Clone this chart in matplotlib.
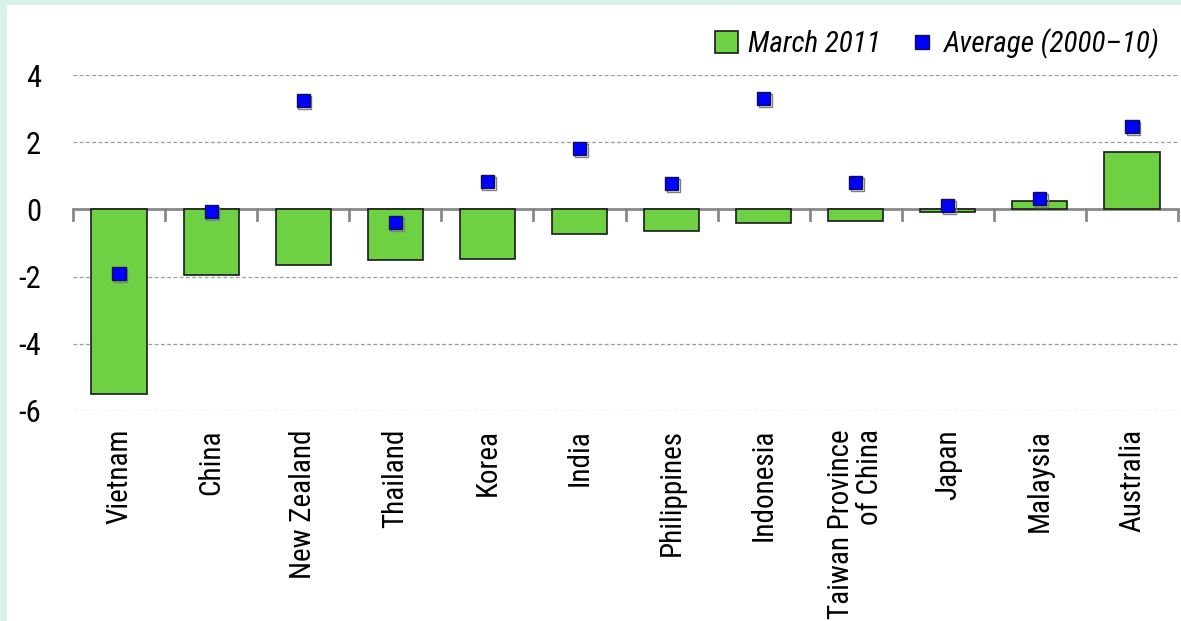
import matplotlib.pyplot as plt
import matplotlib.patheffects as pe
from matplotlib import font_manager
from matplotlib.patches import Patch
from matplotlib.lines import Line2D
import numpy as np

# Data
countries = ["Vietnam", "China", "New Zealand", "Thailand", "Korea", "India",
             "Philippines", "Indonesia", "Taiwan Province\nof China", "Japan",
             "Malaysia", "Australia"]
march_2011 = [-5.48, -1.96, -1.64, -1.52, -1.49, -0.74, -0.65, -0.39, -0.36, -0.09, 0.24, 1.70]
average_2000_10 = [-1.90, -0.06, 3.24, -0.39, 0.83, 1.81, 0.77, 3.30, 0.80, 0.12, 0.33, 2.47]

# use a narrow font if one is installed
installed = {f.name for f in font_manager.fontManager.ttflist}
narrow = [n for n in ['Roboto Condensed', 'Liberation Sans Narrow', 'DejaVu Sans Condensed']
          if n in installed]
plt.rcParams['font.family'] = narrow + ['DejaVu Sans']
scale = 1.0 if narrow else 0.82

fig = plt.figure(figsize=(11.81, 6.21), dpi=100, facecolor='#d9f1e9')
# white panel inside the mint frame
bg = fig.add_axes([7/1181, 0, 1 - 7/1181, 1 - 5/621], zorder=0)
bg.set_axis_off()
bg.add_patch(plt.Rectangle((0, 0), 1, 1, transform=bg.transAxes, color='white'))

ax = fig.add_axes([73/1181, 1 - 411/621, (1178 - 73)/1181, (411 - 75)/621], zorder=2)
ax.set_facecolor('none')

x = np.arange(len(countries))
ax.bar(x, march_2011, width=0.6, color='#6dd143', edgecolor='#1a1a1a', linewidth=1.2, zorder=3)
ax.plot(x, average_2000_10, linestyle='none', marker='s', markersize=9.5,
        markerfacecolor='#0000ff', markeredgecolor='#101050', markeredgewidth=1, zorder=4,
        path_effects=[pe.SimpleLineShadow(offset=(1.2, -1.5), shadow_color='#808080', alpha=1),
                      pe.Normal()])

ax.set_xlim(-0.5, len(countries) - 0.5)
ax.set_ylim(-6, 4)
ax.set_yticks([-6, -4, -2, 0, 2, 4])
ax.set_yticklabels(['-6', '-4', '-2', '0', '2', '4'])
for yv in [-6, -4, -2, 2, 4]:
    ax.axhline(yv, color='#9a9a9a', linestyle=(0, (3, 2)), linewidth=0.9, zorder=1)
ax.axhline(0, color='#888888', linewidth=2, zorder=2)

# category boundary ticks below zero line
for b in np.arange(-0.5, len(countries), 1.0):
    ax.plot([b, b], [0, -0.33], color='#888888', linewidth=2, zorder=2, clip_on=False)

for s in ax.spines.values():
    s.set_visible(False)
ax.tick_params(axis='y', length=0, labelsize=22 * scale, pad=23)
ax.tick_params(axis='x', length=0, pad=13)
ax.set_xticks(x)
ax.set_xticklabels(countries, rotation=90, fontsize=21 * scale, va='top', ha='center',
                   multialignment='right', linespacing=1.05)

handles = [Patch(facecolor='#6dd143', edgecolor='#1a1a1a', linewidth=1.2),
           Line2D([], [], linestyle='none', marker='s', markersize=9.5,
                  markerfacecolor='#0000ff', markeredgecolor='#101050')]
fig.legend(handles, ['March 2011', 'Average (2000–10)'], loc='upper right',
           bbox_to_anchor=(1180/1181, 1 - 8/621), ncol=2, frameon=False,
           prop={'style': 'italic', 'size': 21 * scale}, handlelength=0.8, handleheight=0.8,
           handletextpad=0.35, columnspacing=1.0, borderpad=0.2)

fig.savefig('out.png', dpi=100, facecolor=fig.get_facecolor())
